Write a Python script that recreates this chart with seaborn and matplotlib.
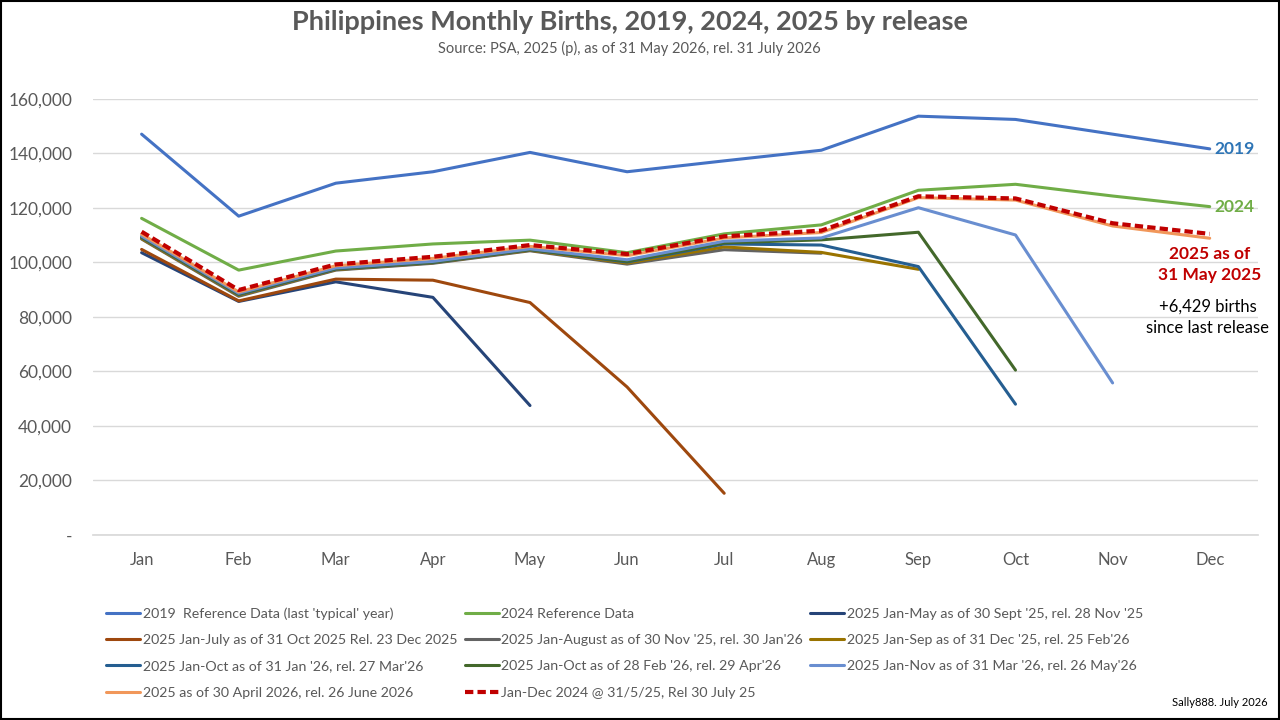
import numpy as np
import pandas as pd
import matplotlib
matplotlib.use("Agg")
import matplotlib.pyplot as plt
from matplotlib.ticker import FuncFormatter
from matplotlib.patches import Rectangle
import seaborn as sns

months = ["Jan", "Feb", "Mar", "Apr", "May", "Jun", "Jul", "Aug", "Sep", "Oct", "Nov", "Dec"]

births_2019 = [147100, 117000, 129100, 133300, 140400, 133300, 137300, 141200, 153700, 152500, 147100, 141700]
births_2024 = [116200, 97200, 104200, 106800, 108200, 103600, 110500, 113800, 126500, 128700, 124400, 120500]
rel_nov25 = [103600, 85700, 92900, 87200, 47500]
rel_dec25 = [104800, 85900, 93900, 93500, 85300, 54300, 15300]
rel_jan26 = [108600, 87600, 97200, 99700, 104300, 99400, 104700, 103400]
rel_feb26 = [108800, 87900, 97400, 99900, 104500, 99800, 105700, 103700, 97500]
rel_mar26 = [109200, 88200, 97600, 100000, 104700, 100200, 106800, 106400, 98500, 48000]
rel_apr26 = [109400, 88400, 97800, 100100, 104800, 100400, 107200, 108300, 111100, 60500]
rel_may26 = [109700, 88700, 98000, 100400, 105000, 101000, 107800, 109000, 120100, 110100, 55800]
rel_jun26 = [110400, 89200, 98800, 101500, 105900, 102500, 109000, 111000, 123800, 122900, 113400, 108900]
rel_jul25 = [111300, 89900, 99300, 102100, 106400, 103100, 109600, 111700, 124300, 123500, 114400, 110500]

series = [
    ("2019  Reference Data (last 'typical' year)", births_2019, "#4472C4"),
    ("2024 Reference Data", births_2024, "#70AD47"),
    ("2025 Jan-May as of 30 Sept '25, rel. 28 Nov '25", rel_nov25, "#264478"),
    ("2025 Jan-July as of 31 Oct 2025 Rel. 23 Dec 2025", rel_dec25, "#9E480E"),
    ("2025 Jan-August as of 30 Nov '25, rel. 30 Jan'26", rel_jan26, "#636363"),
    ("2025 Jan-Sep as of 31 Dec '25, rel. 25 Feb'26", rel_feb26, "#997300"),
    ("2025 Jan-Oct as of 31 Jan '26, rel. 27 Mar'26", rel_mar26, "#255E91"),
    ("2025 Jan-Oct as of 28 Feb '26, rel. 29 Apr'26", rel_apr26, "#43682B"),
    ("2025 Jan-Nov as of 31 Mar '26, rel. 26 May'26", rel_may26, "#698ED0"),
    ("2025 as of 30 April 2026, rel. 26 June 2026", rel_jun26, "#F1975A"),
    ("Jan-Dec 2024 @ 31/5/25, Rel 30 July 25", rel_jul25, "#C00000"),
]

sns.set_theme(style="white")
plt.rcParams["font.family"] = ["Lato", "DejaVu Sans"]
grey = "#595959"

fig = plt.figure(figsize=(12.8, 7.2), dpi=100)
ax = fig.add_axes([0.0727, 0.257, 0.9103, 0.6055])

for name, vals, col in series:
    df = pd.DataFrame({"m": np.arange(len(vals)), "births": vals})
    if name.startswith("Jan-Dec"):
        sns.lineplot(data=df, x="m", y="births", ax=ax, color=col, lw=3.0,
                     linestyle=(0, (2, 1)), label=name, legend=False)
    else:
        sns.lineplot(data=df, x="m", y="births", ax=ax, color=col, lw=2.2,
                     label=name, legend=False)

ax.set_xlim(-0.5, 11.5)
ax.set_ylim(0, 160000)
ax.set_xticks(np.arange(12))
ax.set_xticklabels(months)
ax.set_yticks(np.arange(0, 160001, 20000))
ax.yaxis.set_major_formatter(FuncFormatter(lambda v, p: "-" if v == 0 else f"{int(v):,}"))
ax.tick_params(axis="y", labelsize=12.5, colors=grey, pad=15, length=0)
ax.tick_params(axis="x", labelsize=12, colors=grey, pad=12, length=0)
ax.set_xlabel("")
ax.set_ylabel("")
ax.grid(axis="y", color="#D9D9D9", lw=1)
for s in ["top", "right", "left"]:
    ax.spines[s].set_visible(False)
ax.spines["bottom"].set_color("#D9D9D9")

# end labels
ax.text(11.05, births_2019[-1], "2019", color="#2E75B6", fontsize=12.5, fontweight="bold",
        va="center", ha="left", clip_on=False)
ax.text(11.05, births_2024[-1], "2024", color="#70AD47", fontsize=12.5, fontweight="bold",
        va="center", ha="left", clip_on=False)
ax.text(11.0, 99300, "2025 as of\n31 May 2025", color="#C00000", fontsize=12.5, fontweight="bold",
        va="center", ha="center", linespacing=1.4, clip_on=False)
ax.text(10.98, 79800, "+6,429 births\nsince last release", color="black", fontsize=12,
        va="center", ha="center", linespacing=1.4, clip_on=False)

fig.text(0.492, 0.969, "Philippines Monthly Births, 2019, 2024, 2025 by release",
         ha="center", va="center", fontsize=19.5, fontweight="bold", color=grey)
fig.text(0.492, 0.933, "Source: PSA, 2025 (p), as of 31 May 2026, rel. 31 July 2026",
         ha="center", va="center", fontsize=10.5, color=grey)
fig.text(0.99, 0.025, "Sally888. July 2026", ha="right", va="center", fontsize=8, color="black")

handles, labels = ax.get_legend_handles_labels()
if ax.get_legend() is not None:
    ax.get_legend().remove()
# matplotlib fills columns first, reorder so rows read left to right
order = [0, 3, 6, 9, 1, 4, 7, 10, 2, 5, 8]
leg = fig.legend([handles[i] for i in order], [labels[i] for i in order],
                 loc="upper left", bbox_to_anchor=(0.083, 0.157), ncol=3, frameon=False,
                 fontsize=10.2, handlelength=2.4, handletextpad=0.2, columnspacing=0.5,
                 labelspacing=1.02, borderaxespad=0, borderpad=0)
for t in leg.get_texts():
    t.set_color(grey)

fig.patches.append(Rectangle((0.001, 0.001), 0.998, 0.997, transform=fig.transFigure,
                             fill=False, edgecolor="black", lw=1.5))

fig.savefig("out.png", dpi=100)
